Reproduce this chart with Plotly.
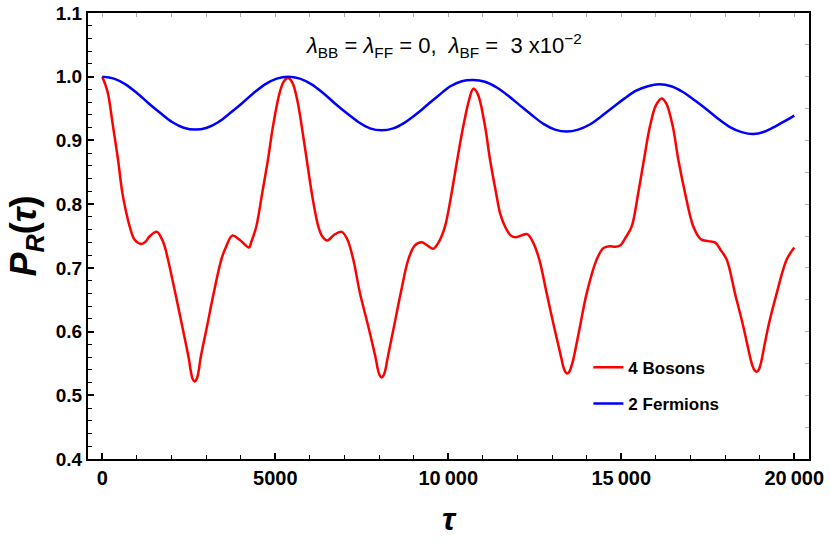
import plotly.graph_objects as go

# --------------------------------------------
# Data
# --------------------------------------------
tau_bosons = [0, 150, 309, 454, 579, 700, 791, 936, 1127, 1250, 1369, 1581, 1706, 1802,
              1899, 2111, 2312, 2506, 2551, 2611, 2671, 2731, 2791, 2833, 3026, 3219, 3439, 3584,
              3757, 3970, 4240, 4308, 4451, 4624, 4789, 4934, 5127, 5250, 5376,
              5500, 5640, 5763, 5908, 6052, 6150, 6243, 6350, 6503, 6700, 6919, 7080,
              7254, 7448, 7688, 7910, 7955, 8015, 8075, 8135, 8195, 8237, 8431, 8624, 8844, 9030,
              9231, 9400, 9566, 9740, 9905, 10098, 10260, 10434, 10607, 10723,
              10850, 11061, 11205, 11379, 11500, 11639, 11800, 11957, 12120, 12283, 12450,
              12630, 12844, 13055, 13277, 13319, 13379, 13439, 13499, 13559, 13613, 13806, 14000, 14289,
              14480, 14673, 14820, 14962, 15130, 15301, 15491, 15656, 15830, 16000, 16168,
              16300, 16486, 16647, 16841, 17081, 17300, 17514, 17708, 17870, 18046, 18286,
              18526, 18740, 18793, 18853, 18913, 18973, 19033, 19058, 19249, 19491, 19780, 20000]
p_bosons = [1.0, 0.977, 0.9225, 0.870, 0.818, 0.785, 0.765, 0.744, 0.7376, 0.741, 0.7496, 0.7565, 0.747, 0.734,
            0.713, 0.660, 0.608, 0.556, 0.540, 0.526, 0.5215, 0.526, 0.540, 0.556, 0.608, 0.660, 0.713, 0.734,
            0.7506, 0.744, 0.732, 0.741, 0.765, 0.818, 0.870, 0.9225, 0.975, 0.993, 0.998,
            0.990, 0.962, 0.9225, 0.870, 0.818, 0.788, 0.765, 0.750, 0.743, 0.752, 0.7565, 0.745,
            0.713, 0.660, 0.608, 0.556, 0.543, 0.5317, 0.528, 0.5317, 0.543, 0.556, 0.608, 0.660, 0.713, 0.735,
            0.740, 0.735, 0.730, 0.742, 0.765, 0.818, 0.870, 0.9225, 0.965, 0.981,
            0.973, 0.9225, 0.870, 0.818, 0.785, 0.765, 0.751, 0.748, 0.751, 0.753, 0.740,
            0.713, 0.660, 0.608, 0.556, 0.5456, 0.537, 0.534, 0.537, 0.5456, 0.556, 0.608, 0.660, 0.713,
            0.731, 0.734, 0.733, 0.735, 0.748, 0.765, 0.818, 0.870, 0.9225, 0.955, 0.966,
            0.958, 0.9225, 0.870, 0.818, 0.765, 0.745, 0.742, 0.740, 0.728, 0.713, 0.660,
            0.608, 0.556, 0.546, 0.539, 0.537, 0.540, 0.550, 0.556, 0.608, 0.660, 0.713, 0.732]

tau_fermions = [0, 336, 672, 1008, 1344, 1680, 2016, 2352, 2688, 3024, 3360, 3696, 4032,
                4368, 4704, 5040, 5376,
                5710, 6050, 6390, 6725, 7060, 7400, 7740, 8075, 8410, 8740, 9070, 9400,
                9730, 10060, 10390, 10723,
                11060, 11400, 11735, 12070, 12410, 12750, 13085, 13420, 13755, 14090, 14425,
                14760, 15095, 15430, 15765, 16100,
                16440, 16780, 17120, 17460, 17800, 18140, 18480, 18815, 19150, 19480, 19750, 20000]
p_fermions = [1.0, 0.997, 0.988, 0.974, 0.958, 0.943, 0.929, 0.920, 0.917, 0.920, 0.929, 0.943, 0.958,
              0.974, 0.988, 0.997, 1.0,
              0.997, 0.988, 0.974, 0.958, 0.943, 0.929, 0.919, 0.916, 0.919, 0.928, 0.941, 0.956,
              0.971, 0.985, 0.993, 0.995,
              0.992, 0.983, 0.970, 0.955, 0.940, 0.926, 0.917, 0.914, 0.917, 0.925, 0.938,
              0.952, 0.966, 0.978, 0.985, 0.988,
              0.985, 0.976, 0.963, 0.949, 0.934, 0.921, 0.913, 0.910, 0.914, 0.923, 0.931, 0.939]

x_tickvals = [0, 5000, 10000, 15000, 20000]
x_ticktext = ["0", "5000", "10\u2009000", "15\u2009000", "20\u2009000"]
y_tickvals = [0.4, 0.5, 0.6, 0.7, 0.8, 0.9, 1.0, 1.1]
y_ticktext = ["0.4", "0.5", "0.6", "0.7", "0.8", "0.9", "1.0", "1.1"]

X_RANGE = [-413, 20425]
Y_RANGE = [0.4, 1.1]

# --------------------------------------------
# Figure
# --------------------------------------------
fig = go.Figure()

fig.add_trace(go.Scatter(
    x=tau_bosons, y=p_bosons, mode="lines", name="4 Bosons",
    line=dict(color="#FF0000", width=2.5, shape="spline", smoothing=1.0),
    legendgroup="b",
))
fig.add_trace(go.Scatter(
    x=tau_fermions, y=p_fermions, mode="lines", name="2 Fermions",
    line=dict(color="#0000FF", width=2.5, shape="spline", smoothing=1.0),
    legendgroup="f",
))

fig.update_layout(
    width=830, height=544,
    margin=dict(l=88, r=21, t=13, b=85),
    paper_bgcolor="white", plot_bgcolor="white",
    font=dict(family="Liberation Sans", color="black"),
    showlegend=True,
    legend=dict(
        x=0.694, y=0.245, xanchor="left", yanchor="top",
        font=dict(family="Liberation Sans", size=17, color="black", weight="bold"),
        bgcolor="rgba(0,0,0,0)", itemwidth=30, tracegroupgap=11,
        traceorder="grouped",
    ),
    xaxis=dict(
        range=X_RANGE, showgrid=False, zeroline=False, automargin=False,
        showline=True, linecolor="black", linewidth=2, mirror=True,
        ticks="inside", ticklen=6, tickwidth=1.5, tickcolor="black",
        tickvals=x_tickvals, ticktext=x_ticktext, ticklabeloverflow="allow",
        tickfont=dict(family="Liberation Sans", size=20, color="black", weight="bold"),
        minor=dict(dtick=1000, tick0=0, ticks="inside", ticklen=4, tickcolor="black", tickwidth=1),
        title=dict(text="<b><i>τ</i></b>", font=dict(size=32, family="Liberation Sans"), standoff=20),
    ),
    yaxis=dict(
        range=Y_RANGE, showgrid=False, zeroline=False, automargin=False,
        showline=True, linecolor="black", linewidth=2, mirror=True,
        ticks="inside", ticklen=6, tickwidth=1.5, tickcolor="black",
        tickvals=y_tickvals, ticktext=y_ticktext, ticklabeloverflow="allow",
        tickfont=dict(family="Liberation Sans", size=19, color="black", weight="bold"),
        minor=dict(dtick=0.02, tick0=0.4, ticks="inside", ticklen=4, tickcolor="black", tickwidth=1),
        title=dict(text="<b><i>P</i><sub><i>R</i></sub>(<i>τ</i>)</b>",
                   font=dict(size=36, family="Liberation Sans"), standoff=8),
    ),
    # gray ticks on the top and right frame edges
    xaxis2=dict(
        range=X_RANGE, overlaying="x", side="top", showgrid=False, zeroline=False,
        automargin=False, showline=False, ticks="inside", ticklen=4,
        tickcolor="#AAAAAA", tickwidth=1, dtick=1000, tick0=0, showticklabels=False,
    ),
    yaxis2=dict(
        range=Y_RANGE, overlaying="y", side="right", showgrid=False, zeroline=False,
        automargin=False, showline=False, ticks="inside", ticklen=4,
        tickcolor="#AAAAAA", tickwidth=1, dtick=0.05, tick0=0.4, showticklabels=False,
    ),
)

# invisible trace so the overlay axes are drawn
fig.add_trace(go.Scatter(x=[None], y=[None], xaxis="x2", yaxis="y2",
                         showlegend=False, hoverinfo="skip"))

fig.add_annotation(
    xref="paper", yref="paper", x=0.494, y=0.966,
    text="<i>λ</i><sub>BB</sub> = <i>λ</i><sub>FF</sub> = 0,  <i>λ</i><sub>BF</sub> =  3 x10<sup>−2</sup>",
    showarrow=False, font=dict(family="Liberation Sans", size=22, color="black"),
)

# drop the browser's default 8px body margin so the figure sits at the page corner
fig.write_html("out.html", config={"displayModeBar": False},
               post_script="document.body.style.margin = '0';")
